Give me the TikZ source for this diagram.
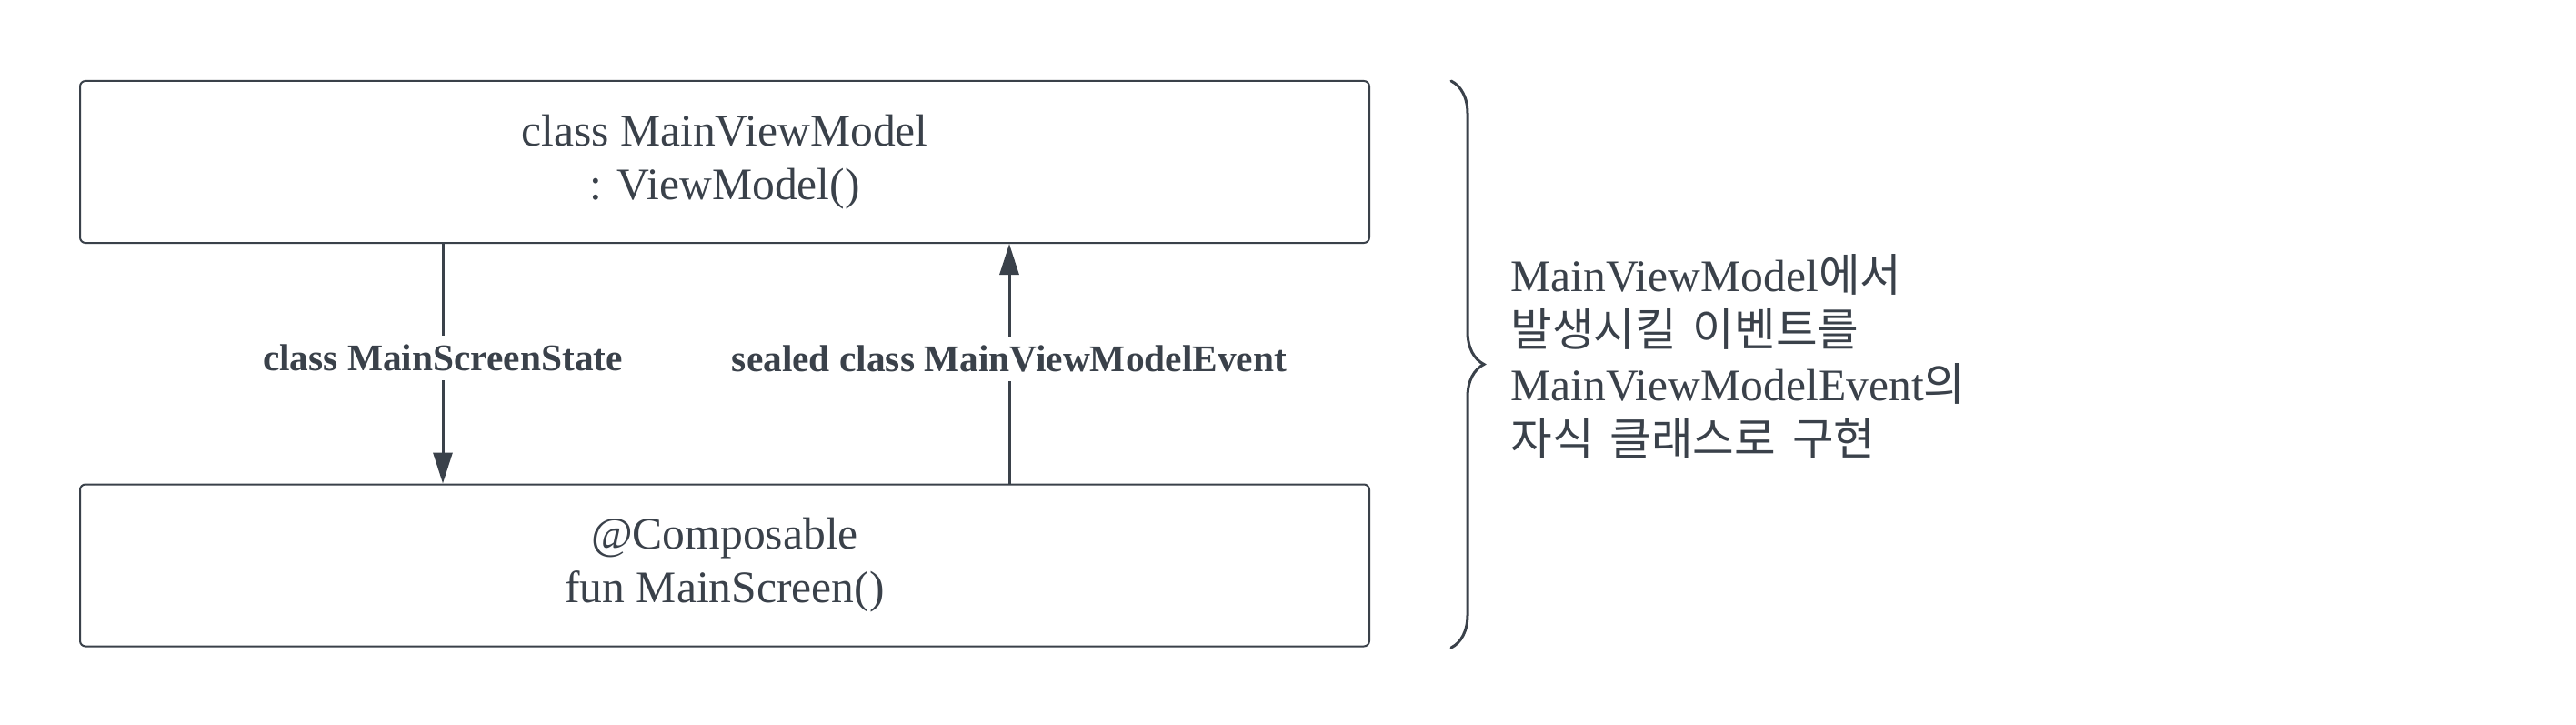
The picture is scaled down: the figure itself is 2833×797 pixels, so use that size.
\documentclass[tikz,border=0pt]{standalone}
\usepackage{fontspec}
\setmainfont{Liberation Serif}
\newfontfamily\krfont{Noto Sans CJK KR}[Scale=1.0]
\usetikzlibrary{arrows.meta,decorations.pathreplacing}
\definecolor{inkgrey}{RGB}{58,65,74}
\newcommand{\kr}[1]{{\krfont\spaceskip=9pt\relax #1}}

\begin{document}
\begin{tikzpicture}[x=0.5pt, y=-0.5pt, inkgrey,
    classbox/.style={draw=inkgrey, line width=1pt, rounded corners=3pt,
      minimum width=709pt, minimum height=89pt, align=center,
      font=\fontsize{24.8}{29.5}\selectfont},
    flow/.style={line width=1.5pt, -{Triangle[length=17pt,width=10.5pt]}},
    flowlabel/.style={fill=white, inner sep=5pt,
      font=\bfseries\fontsize{20.7}{24}\selectfont}]
        \useasboundingbox (0,0) rectangle (2833,797);
        % Classes
        \node[classbox] (vm) at (797,178) {class MainViewModel\\: ViewModel()};
        \node[classbox] (screen) at (797,621.5) {@Composable\\fun MainScreen()};
        % State and event flows
        \coordinate (statex) at (487,0);
        \coordinate (eventx) at (1110,0);
        \draw[flow] (vm.south -| statex) -- (screen.north -| statex)
          node[flowlabel,pos=0.477]{class MainScreenState};
        \draw[flow] (screen.north -| eventx) -- (vm.south -| eventx)
          node[flowlabel,pos=0.52]{sealed class MainViewModelEvent};
        % Brace and note
        \draw[line width=1.5pt, line cap=round, decorate,
          decoration={brace,amplitude=18pt}] (1596,89) -- (1596,712);
        \node[anchor=west, align=left, inner sep=0pt,
          font=\fontsize{24.8}{30}\selectfont] (note) at (1661,392)
          {MainViewModel\kr{에서}\\\kr{발생시킬 이벤트를}\\
           MainViewModelEvent\kr{의}\\\kr{자식 클래스로 구현}};
      \end{tikzpicture}
\end{document}
